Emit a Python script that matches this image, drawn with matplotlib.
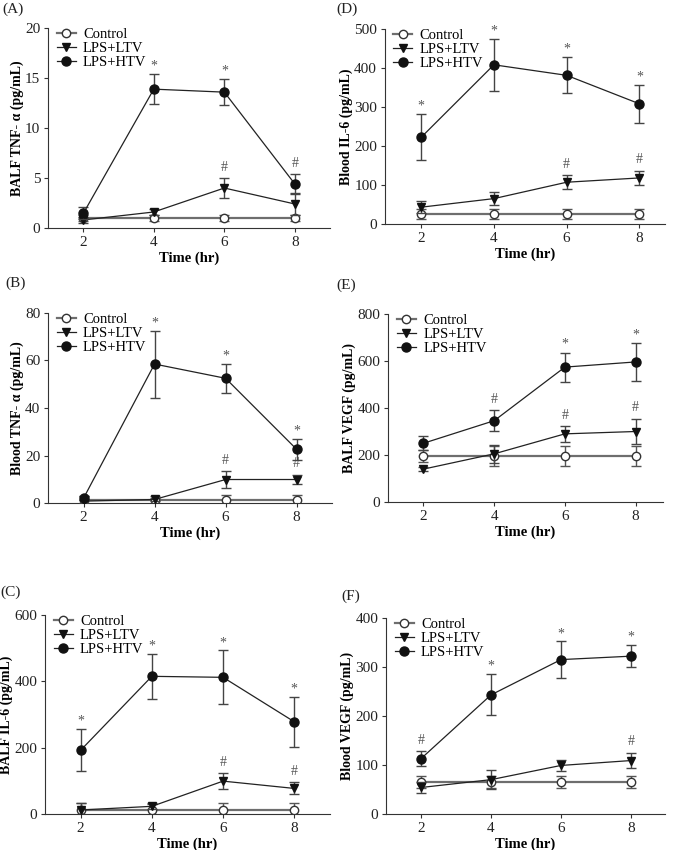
import matplotlib
matplotlib.use("Agg")
import matplotlib.pyplot as plt
from matplotlib.lines import Line2D
import numpy as np

plt.rcParams['font.family'] = ['Liberation Serif', 'DejaVu Serif']

time = [2, 4, 6, 8]
groups = ["Control", "LPS+LTV", "LPS+HTV"]

# Panel A: BALF TNF-α
A_ctrl = [0.95, 0.95, 0.95, 0.95]; A_ctrl_e = [0.3, 0.3, 0.3, 0.3]
A_ltv = [0.8, 1.6, 4.0, 2.4]; A_ltv_e = [0.3, 0.3, 1.0, 1.15]
A_htv = [1.45, 13.9, 13.6, 4.4]; A_htv_e = [0.6, 1.5, 1.3, 1.0]
A_marks = [(4, 15.4, "*"), (6, 14.9, "*"), (6, 5.0, "#"), (8, 5.4, "#")]

# Panel B: Blood TNF-α
B_ctrl = [1.4, 1.4, 1.4, 1.4]; B_ctrl_e = [1.5, 1.5, 2.0, 2.0]
B_ltv = [0.8, 1.5, 9.9, 9.9]; B_ltv_e = [0.6, 0.6, 3.6, 2.1]
B_htv = [2.0, 58.5, 52.5, 22.6]; B_htv_e = [0.8, 14.1, 6.0, 4.3]
B_marks = [(4, 72.6, "*"), (6, 58.5, "*"), (8, 26.9, "*"), (6, 13.5, "#"), (8, 12.0, "#")]

# Panel C: BALF IL-6
C_ctrl = [12, 12, 12, 12]; C_ctrl_e = [20, 20, 21, 21]
C_ltv = [12, 23, 99, 77]; C_ltv_e = [20, 8, 23, 18]
C_htv = [192, 415, 412, 278]; C_htv_e = [63, 67, 81, 75]
C_marks = [(2, 255, "*"), (4, 482, "*"), (6, 493, "*"), (8, 353, "*"), (6, 122, "#"), (8, 95, "#")]

# Panel D: Blood IL-6
D_ctrl = [26, 26, 26, 26]; D_ctrl_e = [12, 12, 12, 12]
D_ltv = [43, 65, 107, 118]; D_ltv_e = [15, 17, 18, 17]
D_htv = [222, 408, 381, 308]; D_htv_e = [59, 66, 46, 48]
D_marks = [(2, 281, "*"), (4, 474, "*"), (6, 427, "*"), (8, 356, "*"), (6, 126, "#"), (8, 137, "#")]

# Panel E: BALF VEGF
E_ctrl = [197, 197, 197, 197]; E_ctrl_e = [25, 42, 42, 42]
E_ltv = [140, 205, 290, 300]; E_ltv_e = [10, 37, 33, 55]
E_htv = [250, 346, 574, 596]; E_htv_e = [30, 45, 62, 80]
E_marks = [(4, 391, "#"), (6, 637, "*"), (8, 676, "*"), (6, 323, "#"), (8, 355, "#")]

# Panel F: Blood VEGF
F_ctrl = [65, 65, 65, 65]; F_ctrl_e = [13, 13, 13, 13]
F_ltv = [54, 70, 99, 109]; F_ltv_e = [11, 19, 11, 16]
F_htv = [113, 243, 315, 322]; F_htv_e = [16, 42, 37, 22]
F_marks = [(2, 129, "#"), (4, 285, "*"), (6, 352, "*"), (8, 344, "*"), (8, 126, "#")]

panels = [
    dict(lab="(A)", ylabel="BALF TNF- α (pg/mL)", ylim=20, step=5,
         data=(A_ctrl, A_ctrl_e, A_ltv, A_ltv_e, A_htv, A_htv_e), marks=A_marks,
         rect=[0.0711, 0.7318, 0.418, 0.235], xr=9.0, labpos=(0.003, 0.997)),
    dict(lab="(B)", ylabel="Blood TNF- α (pg/mL)", ylim=80, step=20,
         data=(B_ctrl, B_ctrl_e, B_ltv, B_ltv_e, B_htv, B_htv_e), marks=B_marks,
         rect=[0.0711, 0.4082, 0.421, 0.2236], xr=9.0, labpos=(0.008, 0.675)),
    dict(lab="(C)", ylabel="BALF IL-6 (pg/mL)", ylim=600, step=200,
         data=(C_ctrl, C_ctrl_e, C_ltv, C_ltv_e, C_htv, C_htv_e), marks=C_marks,
         rect=[0.0667, 0.0424, 0.422, 0.2341], xr=9.0, labpos=(0.001, 0.311)),
    dict(lab="(D)", ylabel="Blood IL-6 (pg/mL)", ylim=500, step=100,
         data=(D_ctrl, D_ctrl_e, D_ltv, D_ltv_e, D_htv, D_htv_e), marks=D_marks,
         rect=[0.570, 0.7365, 0.415, 0.2295], xr=8.7, labpos=(0.499, 0.997)),
    dict(lab="(E)", ylabel="BALF VEGF (pg/mL)", ylim=800, step=200,
         data=(E_ctrl, E_ctrl_e, E_ltv, E_ltv_e, E_htv, E_htv_e), marks=E_marks,
         rect=[0.575, 0.4094, 0.407, 0.2212], xr=8.77, labpos=(0.499, 0.672)),
    dict(lab="(F)", ylabel="Blood VEGF (pg/mL)", ylim=400, step=100,
         data=(F_ctrl, F_ctrl_e, F_ltv, F_ltv_e, F_htv, F_htv_e), marks=F_marks,
         rect=[0.572, 0.0424, 0.413, 0.2306], xr=8.97, labpos=(0.505, 0.306)),
]

fig = plt.figure(figsize=(6.75, 8.5), dpi=100)

styles = [
    dict(color="#6e6e6e", lw=1.6, marker="o", mfc="white", mec="#333333", ms=6, mew=1.0),
    dict(color="#222222", lw=0.9, marker="v", mfc="#111111", mec="#111111", ms=6, mew=1.0),
    dict(color="#222222", lw=0.9, marker="o", mfc="#111111", mec="#111111", ms=6.5, mew=1.0),
]

for p in panels:
    ax = fig.add_axes(p["rect"])
    c, ce, l, le, h, he = p["data"]
    series = [(c, ce), (l, le), (h, he)]
    for k, (vals, errs) in enumerate(series):
        st = styles[k]
        ax.errorbar(time, vals, yerr=errs, ecolor="#444444" if k else "#555555",
                    elinewidth=1.0, capsize=3.5, capthick=1.0, zorder=2 + k, **st)
    for (x, y, s) in p["marks"]:
        ax.annotate(s, (x, y), xytext=(0, 3 if s == "#" else 1), textcoords="offset points",
                    ha="center", va="bottom", fontsize=10, color="#555555")
    ax.set_xlim(1.0, p["xr"])
    ax.set_ylim(0, p["ylim"])
    ax.set_xticks(time)
    ax.set_yticks(np.arange(0, p["ylim"] + 1e-9, p["step"]))
    for sp in ["top", "right"]:
        ax.spines[sp].set_visible(False)
    ax.spines["left"].set_color("#333333")
    ax.spines["bottom"].set_color("#333333")
    ax.tick_params(direction="out", length=3, width=0.8, labelsize=11, colors="#333333",
                   labelcolor="#222222", pad=2.5)
    ax.set_xlabel("Time (hr)", fontsize=10.5, fontweight="bold", labelpad=2)
    ax.set_ylabel(p["ylabel"], fontsize=10, fontweight="bold", labelpad=1)
    handles = [Line2D([], [], **st) for st in styles]
    ax.legend(handles, groups, loc="upper left", bbox_to_anchor=(0.0, 1.045), frameon=False,
              fontsize=10.5, handlelength=1.3, handletextpad=0.5,
              labelspacing=0.05, borderaxespad=0.2)
    fig.text(p["labpos"][0], p["labpos"][1], p["lab"], fontsize=11, ha="left", va="top",
             color="#222222")

fig.savefig("out.png", dpi=100)
